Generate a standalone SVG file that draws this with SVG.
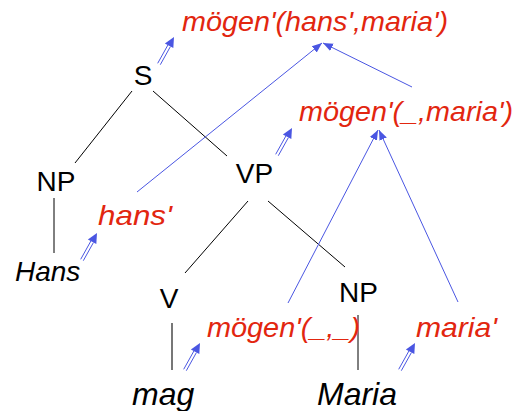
<svg xmlns="http://www.w3.org/2000/svg" width="518" height="411" viewBox="0 0 518 411">
<style>
.cat{font-family:"Liberation Sans",Arial,sans-serif;font-size:28px;fill:#000;text-anchor:middle}
.word{font-family:"Liberation Sans",Arial,sans-serif;font-style:italic;fill:#000}
.sem{font-family:"Liberation Sans",Arial,sans-serif;font-style:italic;font-size:28px;fill:#e2260f}
.tree{stroke:#000;stroke-width:1;fill:none}
.lex{stroke:#555;stroke-width:1.6;fill:none}
.comp{stroke:#4a56e2;stroke-width:1;fill:none;marker-end:url(#ah)}
</style>
<defs>
<marker id="ah" viewBox="0 0 10 10" refX="10" refY="5" markerWidth="10" markerHeight="10" markerUnits="userSpaceOnUse" orient="auto">
<path d="M0,1 L10,5 L0,9 z" fill="#4a56e2"/>
</marker>
<g id="dbl">
<line x1="1.3" y1="0.7" x2="11.4" y2="-17.4" stroke="#4a56e2" stroke-width="1"/>
<line x1="-1.3" y1="-0.7" x2="8.9" y2="-19" stroke="#4a56e2" stroke-width="1"/>
<path d="M15,-27 L14.3,-15.9 L5.9,-20.6 z" fill="#4a56e2"/>
</g>
</defs>
<g id="connectors">
<line class="tree" x1="132" y1="91" x2="75" y2="163"/>
<line class="tree" x1="153" y1="91" x2="227" y2="156"/>
<line class="tree" x1="54" y1="198" x2="54" y2="253"/>
<line class="tree" x1="248" y1="201" x2="185" y2="273"/>
<line class="tree" x1="268" y1="201" x2="345" y2="267"/>
<line class="lex" x1="172" y1="323" x2="172" y2="370"/>
<line class="tree" x1="358" y1="315" x2="358" y2="370"/>
<line class="comp" x1="137" y1="192" x2="322" y2="43"/>
<line class="comp" x1="412" y1="87" x2="323" y2="43"/>
<line class="comp" x1="288" y1="303" x2="378" y2="130"/>
<line class="comp" x1="458" y1="302" x2="379" y2="130"/>
<use href="#dbl" x="159" y="64"/>
<use href="#dbl" x="82" y="260"/>
<use href="#dbl" x="277" y="155"/>
<use href="#dbl" x="185" y="370"/>
<use href="#dbl" x="400" y="370"/>
</g>
<g id="S"><text class="cat" x="143" y="85">S</text></g>
<g id="NP1"><text class="cat" x="56" y="191">NP</text></g>
<g id="VP"><text class="cat" x="254.5" y="183">VP</text></g>
<g id="V"><text class="cat" x="169" y="308">V</text></g>
<g id="NP2"><text class="cat" x="358.5" y="302">NP</text></g>
<g id="Hans"><text class="word" x="15" y="281" font-size="28">Hans</text></g>
<g id="mag"><text class="word" x="132" y="405" font-size="32">mag</text></g>
<g id="Maria"><text class="word" x="317" y="405" font-size="32">Maria</text></g>
<g id="sem-S"><text class="sem" x="182" y="31" textLength="266" lengthAdjust="spacingAndGlyphs">mögen'(hans',maria')</text></g>
<g id="sem-VP"><text class="sem" x="299" y="121" textLength="214" lengthAdjust="spacingAndGlyphs">mögen'(_,maria')</text></g>
<g id="sem-NP1"><text class="sem" x="98" y="225" textLength="74" lengthAdjust="spacingAndGlyphs">hans'</text></g>
<g id="sem-V"><text class="sem" x="207" y="337" textLength="153" lengthAdjust="spacingAndGlyphs">mögen'(_,_)</text></g>
<g id="sem-NP2"><text class="sem" x="416" y="337" textLength="81" lengthAdjust="spacingAndGlyphs">maria'</text></g>
</svg>
